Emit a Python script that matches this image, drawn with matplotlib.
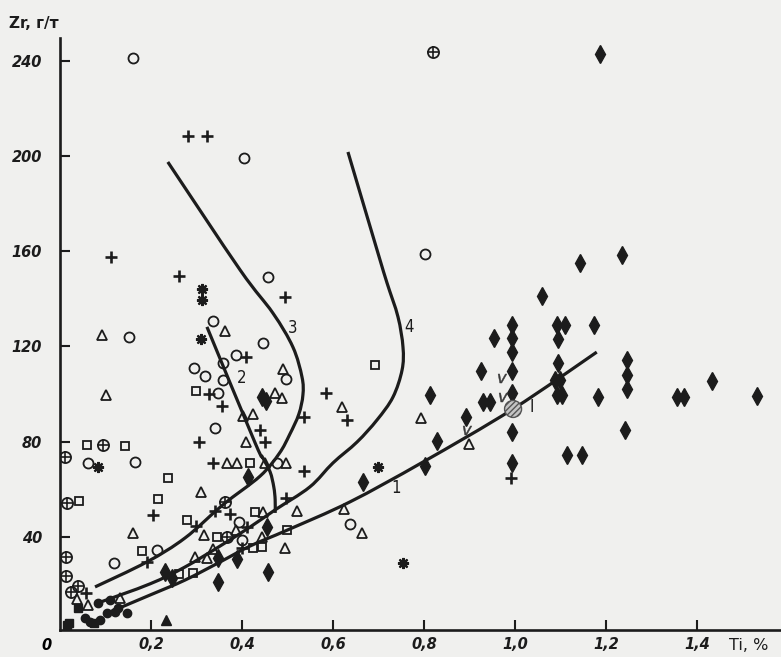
import matplotlib
matplotlib.use("Agg")
import matplotlib.pyplot as plt
from matplotlib.path import Path
from matplotlib.patches import PathPatch

# ---------------- data (Ti, %  vs  Zr, g/t) ----------------
circ_x = [0.160, 0.404, 0.802, 0.457, 0.336, 0.446, 0.387, 0.358, 0.295, 0.319, 0.358, 0.347,
          0.497, 0.341, 0.477, 0.393, 0.400, 0.637, 0.152, 0.062, 0.165, 0.119, 0.213]
circ_y = [241.2, 199.2, 158.8, 149.2, 130.7, 121.4, 116.4, 113.0, 110.9, 107.6, 105.9, 100.4,
          106.3, 85.7, 71.0, 46.2, 38.7, 45.4, 124.0, 71.0, 71.4, 29.0, 34.5]

tri_x = [0.092, 0.101, 0.363, 0.490, 0.473, 0.488, 0.402, 0.424, 0.409, 0.367, 0.389, 0.451,
         0.497, 0.310, 0.521, 0.446, 0.316, 0.387, 0.444, 0.495, 0.336, 0.297, 0.323, 0.160,
         0.037, 0.062, 0.132, 0.620, 0.793, 0.899, 0.624, 0.664]
tri_y = [124.8, 99.6, 126.5, 110.5, 100.4, 98.3, 90.8, 91.6, 79.8, 71.0, 71.0, 71.0,
         71.0, 58.8, 50.8, 50.4, 40.8, 42.9, 39.9, 35.3, 34.9, 31.5, 31.1, 41.6,
         13.9, 11.3, 14.3, 94.5, 89.9, 79.0, 51.7, 41.6]

sq_x = [0.299, 0.418, 0.692, 0.059, 0.143, 0.042, 0.237, 0.215, 0.279, 0.180, 0.429, 0.345,
        0.499, 0.424, 0.444, 0.262, 0.292]
sq_y = [101.3, 71.0, 112.2, 78.6, 78.2, 55.0, 64.7, 55.9, 47.1, 34.0, 50.4, 39.9,
        42.9, 35.3, 35.7, 24.4, 24.8]

plus_x = [0.281, 0.323, 0.112, 0.262, 0.495, 0.409, 0.327, 0.356, 0.536, 0.440, 0.305, 0.451,
          0.336, 0.536, 0.497, 0.341, 0.374, 0.411, 0.400, 0.204, 0.191, 0.057, 0.585, 0.631,
          0.991, 0.299]
plus_y = [208.4, 208.4, 157.6, 149.6, 140.8, 115.5, 100.0, 95.0, 90.3, 84.9, 79.8, 79.8,
          71.0, 67.6, 56.3, 50.8, 49.6, 44.1, 35.3, 49.2, 29.4, 16.4, 100.4, 89.1,
          64.7, 44.5]

ast_x = [0.312, 0.312, 0.310, 0.084, 0.699, 0.754]
ast_y = [144.1, 139.5, 123.1, 69.3, 69.3, 29.0]

cplus_x = [0.820, 0.095, 0.011, 0.015, 0.363, 0.367, 0.013, 0.013, 0.040, 0.024]
cplus_y = [243.7, 78.6, 73.5, 54.2, 54.6, 39.9, 31.5, 23.5, 19.3, 16.8]

dia_x = [1.187, 1.143, 1.235, 1.059, 1.092, 1.110, 1.095, 1.174, 0.993, 0.993, 0.993, 0.993,
         0.993, 0.954, 1.095, 1.088, 1.099, 1.092, 1.103, 1.182, 1.246, 1.246, 1.246, 1.242,
         1.114, 1.147, 1.356, 1.371, 1.433, 1.532, 0.925, 0.930, 0.945, 0.993, 0.993, 0.813,
         0.892, 0.829, 0.802, 0.666,
         0.444, 0.453, 0.413, 0.455, 0.457, 0.347, 0.347, 0.389, 0.231, 0.246]
dia_y = [242.9, 155.0, 158.4, 141.2, 129.0, 129.0, 123.1, 129.0, 129.0, 123.5, 117.6, 109.7,
         100.4, 123.5, 113.0, 105.9, 105.9, 99.6, 99.6, 98.7, 114.3, 108.0, 102.1, 84.9,
         74.4, 74.4, 98.7, 98.7, 105.5, 99.2, 109.7, 96.6, 96.6, 84.0, 71.0, 99.6,
         90.3, 80.3, 69.7, 63.0,
         98.7, 97.1, 65.1, 44.1, 25.2, 21.0, 31.1, 30.7, 25.2, 22.7]

fsq_x = [0.020, 0.015, 0.040, 0.075]
fsq_y = [3.8, 2.9, 10.1, 3.8]

fcirc_x = [0.055, 0.066, 0.088, 0.103, 0.084, 0.110, 0.121, 0.127, 0.147]
fcirc_y = [5.9, 4.2, 5.0, 8.0, 12.2, 13.4, 8.4, 10.1, 8.0]

ftri_x = [0.233]
ftri_y = [5.0]

chk_x = [0.971, 0.974, 0.895]
chk_y = [106.7, 98.7, 84.9]

hatch_x = [0.996]
hatch_y = [93.7]

# trend curves
c1_x = [0.105, 0.198, 0.275, 0.352, 0.418, 0.501, 0.637, 0.798, 0.996, 1.180]
c1_y = [8.0, 15.5, 21.8, 29.4, 36.1, 42.9, 54.6, 71.4, 93.7, 117.6]

c2_x = [0.323, 0.429, 0.446, 0.462, 0.470, 0.473, 0.473]
c2_y = [128.2, 79.4, 73.1, 67.2, 60.9, 55.5, 50.0]

c3_x = [0.237, 0.396, 0.468, 0.512, 0.532, 0.534, 0.525, 0.505, 0.482, 0.440, 0.358, 0.275, 0.191, 0.077]
c3_y = [197.5, 152.1, 134.0, 119.7, 107.1, 99.6, 91.5, 83.0, 75.0, 65.5, 53.4, 39.5, 29.4, 18.9]

c4_x = [0.633, 0.697, 0.719, 0.743, 0.754, 0.752, 0.732, 0.697, 0.653, 0.600, 0.549, 0.473,
        0.418, 0.352, 0.275, 0.198, 0.084]
c4_y = [201.7, 160.5, 146.6, 132.4, 119.7, 110.1, 98.7, 89.1, 79.8, 71.0, 60.9, 51.3,
        44.1, 36.1, 27.3, 20.2, 12.2]

curve_labels = ["1", "2", "3", "4", "I"]
curve_label_x = [0.738, 0.400, 0.512, 0.767, 1.037]
curve_label_y = [60.5, 106.7, 127.7, 128.2, 94.5]

xtick_vals = [0.2, 0.4, 0.6, 0.8, 1.0, 1.2, 1.4]
xtick_labels = ["0,2", "0,4", "0,6", "0,8", "1,0", "1,2", "1,4"]
ytick_vals = [40, 80, 120, 160, 200, 240]
ytick_labels = ["40", "80", "120", "160", "200", "240"]

# ---------------- drawing ----------------
BG = "#f0f0ee"
INK = "#1c1c1c"

fig = plt.figure(figsize=(7.81, 6.57), dpi=100, facecolor=BG)
ax = fig.add_axes([60 / 781, 27 / 657, 721 / 781, 592 / 657])
ax.set_facecolor(BG)
ax.set_xlim(0, 1.585)
ax.set_ylim(0.8, 249.6)

for s in ["top", "right"]:
    ax.spines[s].set_visible(False)
for s in ["left", "bottom"]:
    ax.spines[s].set_linewidth(1.9)
    ax.spines[s].set_color(INK)


def smooth_curve(xs, ys, **kw):
    """Draw a smooth (Catmull-Rom as cubic Bezier) path through the read points,
    computed in display space so the smoothing is isotropic."""
    pts = ax.transData.transform(list(zip(xs, ys)))
    n = len(pts)
    verts = [tuple(pts[0])]
    codes = [Path.MOVETO]
    for i in range(n - 1):
        p0 = pts[i - 1] if i > 0 else pts[i]
        p1 = pts[i]
        p2 = pts[i + 1]
        p3 = pts[i + 2] if i + 2 < n else pts[i + 1]
        c1 = p1 + (p2 - p0) / 6.0
        c2 = p2 - (p3 - p1) / 6.0
        verts += [tuple(c1), tuple(c2), tuple(p2)]
        codes += [Path.CURVE4] * 3
    patch = PathPatch(Path(verts, codes), facecolor="none", transform=None, **kw)
    ax.add_artist(patch)


for cx, cy in [(c1_x, c1_y), (c2_x, c2_y), (c3_x, c3_y), (c4_x, c4_y)]:
    smooth_curve(cx, cy, edgecolor=INK, lw=2.3, capstyle="butt", zorder=2)

open_kw = dict(linestyle="none", markerfacecolor="none", markeredgecolor=INK, zorder=3)
ax.plot(circ_x, circ_y, marker="o", ms=7.2, mew=1.3, **open_kw)
ax.plot(tri_x, tri_y, marker="^", ms=7.8, mew=1.3, **open_kw)
ax.plot(sq_x, sq_y, marker="s", ms=6.4, mew=1.3, **open_kw)
ax.plot(cplus_x, cplus_y, marker="o", ms=8.0, mew=1.3, **open_kw)
ax.plot(cplus_x, cplus_y, marker="+", ms=8.0, mew=1.2, linestyle="none", color=INK, zorder=3)
ax.plot(plus_x, plus_y, marker="+", ms=8.5, mew=1.9, linestyle="none", color=INK, zorder=3)
ax.plot(ast_x, ast_y, marker=(8, 2, 0), ms=8.0, mew=1.6, linestyle="none", color=INK, zorder=3)
ax.plot(dia_x, dia_y, marker="d", ms=8.8, linestyle="none", color=INK, mec=INK, zorder=3)
ax.plot(fsq_x, fsq_y, marker="s", ms=5.5, linestyle="none", color=INK, zorder=3)
ax.plot(fcirc_x, fcirc_y, marker="o", ms=6.0, linestyle="none", color=INK, zorder=3)
ax.plot(ftri_x, ftri_y, marker="^", ms=6.5, linestyle="none", color=INK, zorder=3)
ax.plot(chk_x, chk_y, marker="$v$", ms=6.5, mew=0.3, linestyle="none", color="#3a3a3a", zorder=3)
ax.scatter(hatch_x, hatch_y, s=150, marker="o", facecolor="#c4c4c4",
           edgecolor="#555555", linewidth=1.0, hatch="//////", zorder=4)

for lab, lx, ly in zip(curve_labels, curve_label_x, curve_label_y):
    ax.text(lx, ly, lab, fontsize=12, color=INK, ha="center", va="center",
            family="DejaVu Sans", fontstretch="condensed", zorder=5)

tick_font = dict(family="DejaVu Sans", style="italic", weight="bold", size=10.5)
ax.set_xticks(xtick_vals)
ax.set_xticklabels(xtick_labels, **tick_font)
ax.set_yticks(ytick_vals)
ax.set_yticklabels(ytick_labels, **tick_font)
ax.tick_params(axis="both", direction="in", length=7, width=1.5, colors=INK)
ax.tick_params(axis="x", pad=5)
ax.tick_params(axis="y", pad=13)

ax.text(-0.018, -0.027, "0", transform=ax.transAxes, ha="center", va="center", **tick_font)
ax.text(0.955, -0.027, "Ti, %", transform=ax.transAxes, ha="center", va="center",
        family="DejaVu Sans", size=11.5, color=INK)
fig.text(34 / 781, 1 - 23 / 657, "Zr, г/т", ha="center", va="center",
         family="DejaVu Sans", weight="bold", size=11, color=INK)

fig.savefig("out.png", dpi=100, facecolor=BG)
